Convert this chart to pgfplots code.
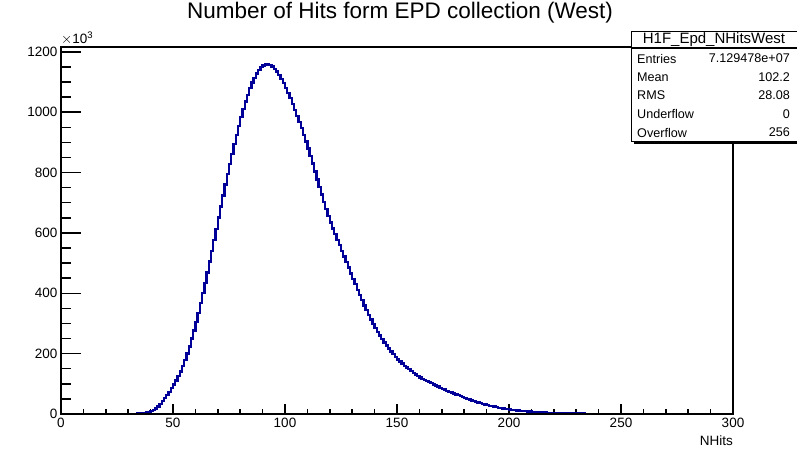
\documentclass[border=0pt]{standalone}
\usepackage{pgfplots}
\pgfplotsset{compat=1.18}
\usepackage{pgfplotstable}
\usepackage{fontspec}
\setmainfont{Liberation Sans}
\definecolor{histblue}{RGB}{0,0,153}

\pgfplotstableread{
x y
0 0
28 0.1
29 0.2
30 0.3
31 0.5
32 0.7
33 1.0
34 1.4
35 1.9
36 2.5
37 3.5
38 5
39 7
40 9
41 13
42 18
43 25
44 33
45 42
46 52
47 63
48 74
49 86
50 98
51 111
52 125
53 141
54 158
55 178
56 200
57 224
58 250
59 277
60 305
61 335
62 367
63 400
64 434
65 469
66 505
67 541
68 577
69 614
70 651
71 688
72 724
73 760
74 795
75 829
76 862
77 894
78 925
79 955
80 983
81 1010
82 1035
83 1058
84 1079
85 1098
86 1114
87 1128
88 1140
89 1149
90 1155
91 1158
92 1158
93 1156
94 1151
95 1144
96 1135
97 1124
98 1111
99 1096
100 1080
101 1064
102 1046
103 1027
104 1008
105 988
106 968
107 947
108 925
109 903
110 880
111 856
112 830
113 803
114 777
115 752
116 727
117 703
118 680
119 657
120 635
121 615
122 596
123 577
124 559
125 541
126 522
127 503
128 485
129 466
130 448
131 430
132 412
133 394
134 377
135 360
136 344
137 328
138 313
139 299
140 285
141 272
142 260
143 248
144 237
145 227
146 217
147 207
148 198
149 189
150 181
151 174
152 167
153 160
154 154
155 148
156 142
157 136
158 131
159 126
160 121
161 117
162 113
163 109
164 105
165 102
166 98
167 94
168 91
169 87
170 84
171 81
172 77
173 74
174 71
175 68
176 65
177 62
178 59
179 56
180 53
181 50
182 48
183 45
184 43
185 40
186 38
187 36
188 34
189 31
190 29
191 27.5
192 26
193 24.5
194 22.5
195 21
196 19.8
197 18.5
198 17.3
199 16.1
200 15
201 14
202 13
203 12.1
204 11.3
205 10.5
206 9.8
207 9.1
208 8.5
209 7.9
210 7.3
211 6.8
212 6.3
213 5.8
214 5.4
215 5.0
216 4.6
217 4.3
218 4.0
219 3.7
220 3.4
221 3.1
222 2.9
223 2.7
224 2.5
225 2.3
226 2.1
227 1.9
228 1.8
229 1.6
230 1.5
231 1.4
232 1.3
233 1.2
234 1.1
235 1.0
236 0.9
237 0.85
238 0.8
239 0.7
240 0.65
241 0.6
242 0.55
243 0.5
244 0.46
245 0.42
246 0.38
247 0.35
248 0.32
249 0.29
250 0.26
255 0.15
260 0.1
270 0.05
280 0.03
290 0.02
300 0.02
}\histdata

\begin{document}
\begin{tikzpicture}[x=1pt,y=1pt]
\path[use as bounding box] (0,0) rectangle (797,448);
\pgfplotsset{rootaxis/.style={
  at={(61pt,34pt)}, anchor=south west, scale only axis,
  width=672pt, height=367pt,
  xmin=0, xmax=300, ymin=0, ymax=1216,
  axis line style={line width=1.5pt, black},
  tick style={line width=1.5pt, black},
  tick align=inside,
  tick label style={font=\fontsize{13.5}{13.5}\selectfont},
  /pgf/number format/assume math mode=true,
  /pgf/number format/set thousands separator={},
}}
\begin{axis}[rootaxis,
  xtick={0,50,...,300}, minor x tick num=4, xtick pos=left,
  major tick length=10pt, minor tick length=5pt,
  ytick=\empty,
  xticklabel style={yshift=-1pt},
]
\addplot[const plot, histblue, line width=2.3pt] table[x=x,y=y]{\histdata};
\end{axis}
\begin{axis}[rootaxis,
  xtick=\empty,
  ytick={0,200,...,1200}, minor y tick num=3, ytick pos=left,
  major tick length=20pt, minor tick length=10pt,
]
\end{axis}
% title and labels
\node[font=\fontsize{22.5}{22.5}\selectfont] at (400,435) {Number of Hits form EPD collection (West)};
\node[font=\fontsize{13.5}{13.5}\selectfont, anchor=base west, inner sep=0pt] at (61,404) {$\times$10\raisebox{5.5pt}{\fontsize{9.5}{9.5}\selectfont 3}};
\node[font=\fontsize{13.5}{13.5}\selectfont, anchor=east, inner sep=0pt] at (733,7) {NHits};
% stats box
\fill[black] (634,304) rectangle (800,307.5);
\draw[line width=1.3pt, fill=white] (631.5,306.5) rectangle (800,416.5);
\draw[line width=1.3pt] (631.5,400) -- (800,400);
\node[font=\fontsize{15}{15}\selectfont] at (714,408.5) {H1F\_Epd\_NHitsWest};
\begin{scope}[every node/.style={font=\fontsize{12.6}{12.6}\selectfont, inner sep=0pt}]
\node[anchor=west] at (637,389.5) {Entries};
\node[anchor=east] at (790,389.5) {7.129478e+07};
\node[anchor=west] at (637,371) {Mean};
\node[anchor=east] at (790,371) {102.2};
\node[anchor=west] at (637,352.5) {RMS};
\node[anchor=east] at (790,352.5) {28.08};
\node[anchor=west] at (637,334) {Underflow};
\node[anchor=east] at (790,334) {0};
\node[anchor=west] at (637,315.5) {Overflow};
\node[anchor=east] at (790,315.5) {256};
\end{scope}
\end{tikzpicture}
\end{document}
